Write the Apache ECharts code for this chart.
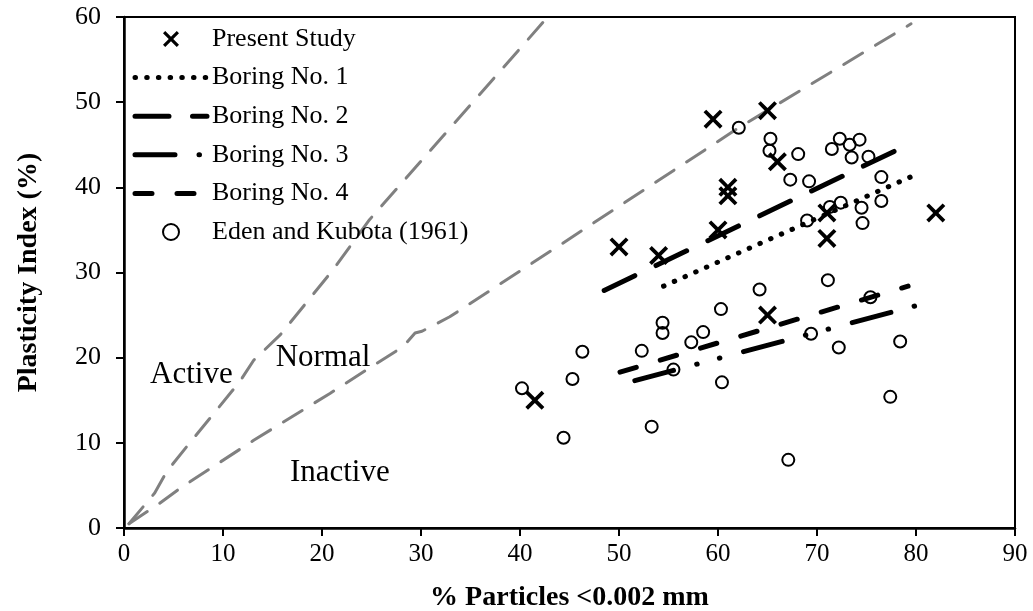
<!DOCTYPE html>
<html>
<head>
<meta charset="utf-8">
<script src="https://cdn.jsdelivr.net/npm/echarts@6/dist/echarts.min.js"></script>
<style>
  html, body { margin: 0; padding: 0; background: #fff; }
  #chart { width: 1033px; height: 611px; }
</style>
</head>
<body>
<div id="chart"></div>
<script>
// Plasticity index against clay fraction (% particles < 0.002 mm)

const legendNames = ['Present Study', 'Boring No. 1', 'Boring No. 2', 'Boring No. 3', 'Boring No. 4', 'Eden and Kubota (1961)'];

const presentStudy = [
  [41.5, 15], [50, 33], [54, 32], [59.5, 48], [65, 49], [61, 40], [61, 39],
  [60, 35], [66, 43], [71, 37], [71, 34], [65, 25], [82, 37]
];

const edenKubota = [
  [40.2, 16.4], [44.4, 10.6], [45.3, 17.5], [46.3, 20.7], [52.3, 20.8], [53.3, 11.9],
  [54.4, 22.9], [54.4, 24.1], [55.5, 18.6], [57.3, 21.8], [58.5, 23.0], [60.3, 25.7],
  [60.4, 17.1], [62.1, 47.0], [64.2, 28.0], [65.2, 44.3], [65.3, 45.7], [67.1, 8.0],
  [67.3, 40.9], [68.1, 43.9], [69.0, 36.1], [69.2, 40.7], [69.4, 22.8], [71.1, 29.1],
  [71.3, 37.7], [72.4, 38.2], [71.5, 44.5], [72.3, 45.7], [73.3, 45.0], [74.3, 45.6],
  [73.5, 43.5], [75.2, 43.6], [72.2, 21.2], [74.5, 37.6], [74.6, 35.8], [75.4, 27.1],
  [76.5, 41.2], [76.5, 38.4], [77.4, 15.4], [78.4, 21.9]
];

const boring1 = [[54.5, 28.4], [80.0, 41.5]];
const boring2 = [[48.5, 27.9], [79.9, 45.4]];
const boring3 = [[51.6, 17.3], [80.0, 26.1]];
const boring4 = [[50.1, 18.3], [79.2, 28.4]];

// Activity boundaries (Active / Normal / Inactive)
const activeBoundary = [
  [0.5, 0.5], [3.1, 4.1], [4.3, 6.6], [6.3, 9.5], [11.7, 17.2], [13.1, 19.7],
  [15.8, 22.7], [21.1, 30.3], [24.8, 36.2], [42.8, 60]
];
const inactiveBoundary = [
  [0.5, 0.5], [3.6, 2.9], [5.7, 4.7], [13.1, 10.3], [20.8, 15.8], [24.8, 18.8],
  [28.2, 21.3], [29.4, 22.9], [30.1, 23.1], [32.9, 24.8], [44.0, 33.2], [62.1, 47.0],
  [79.5, 59.2]
];

const zoneLabels = [
  { name: 'Active', value: [6.8, 18.0] },
  { name: 'Normal', value: [20.1, 20.0] },
  { name: 'Inactive', value: [21.8, 6.5] }
];

const xTicks = [0, 10, 20, 30, 40, 50, 60, 70, 80, 90];
const yTicks = [0, 10, 20, 30, 40, 50, 60];

const FONT = 'Liberation Serif';
const crossPath = 'path://M0,1.4L1.4,0L5,3.6L8.6,0L10,1.4L6.4,5L10,8.6L8.6,10L5,6.4L1.4,10L0,8.6L3.6,5Z';
const clear = 'rgba(0,0,0,0)';

const boringDash = {
  [legendNames[1]]: [0.5, 11.2],
  [legendNames[2]]: [34, 23.5],
  [legendNames[3]]: [40, 24, 0.5, 23, 0.5, 24.5],
  [legendNames[4]]: [17, 25]
};

function boringSeries(name, data) {
  return {
    name: name,
    type: 'line',
    data: data,
    symbol: 'none',
    z: 4,
    itemStyle: { color: clear, borderColor: clear, opacity: 0 },
    lineStyle: { color: '#000', width: 5, type: boringDash[name], cap: 'round' }
  };
}

function boundarySeries(data) {
  return {
    type: 'line',
    data: data,
    symbol: 'none',
    z: 2,
    silent: true,
    lineStyle: { color: '#808080', width: 3, type: [22, 15], cap: 'round' }
  };
}

const legendData = legendNames.map(name => {
  if (boringDash[name]) {
    return {
      name: name,
      itemStyle: { opacity: 0 },
      lineStyle: { color: '#000', width: 5, type: boringDash[name], cap: 'round' }
    };
  }
  return { name: name, itemStyle: { opacity: 1 } };
});

const chart = echarts.init(document.getElementById('chart'), null, { renderer: 'canvas' });

chart.setOption({
  animation: false,
  backgroundColor: '#fff',
  grid: {
    left: 124, right: 18, top: 17, bottom: 83,
    outerBoundsMode: 'none',
    containLabel: false,
    show: true, borderColor: '#000', borderWidth: 2, backgroundColor: clear
  },
  legend: {
    data: legendData,
    orient: 'vertical',
    left: 132.5,
    top: 26,
    padding: 0,
    itemWidth: 72,
    itemHeight: 16,
    itemGap: 12.6,
    selectedMode: false,
    textStyle: { fontFamily: FONT, fontSize: 26, lineHeight: 26, color: '#000' }
  },
  xAxis: {
    type: 'value',
    min: xTicks[0],
    max: xTicks[xTicks.length - 1],
    interval: 10,
    name: '% Particles <0.002 mm',
    nameLocation: 'middle',
    nameGap: 56,
    nameTextStyle: { fontFamily: FONT, fontSize: 28, fontWeight: 'bold', color: '#000' },
    axisLine: { show: true, onZero: false, lineStyle: { color: '#000', width: 2.5 } },
    axisTick: { show: true, inside: false, length: 8, lineStyle: { color: '#000', width: 2 } },
    axisLabel: { fontFamily: FONT, fontSize: 25, color: '#000', margin: 14 },
    splitLine: { show: false }
  },
  yAxis: {
    type: 'value',
    min: yTicks[0],
    max: yTicks[yTicks.length - 1],
    interval: 10,
    name: 'Plasticity Index (%)',
    nameLocation: 'middle',
    nameGap: 81,
    nameTextStyle: { fontFamily: FONT, fontSize: 28, fontWeight: 'bold', color: '#000' },
    axisLine: { show: true, onZero: false, lineStyle: { color: '#000', width: 2.5 } },
    axisTick: { show: true, inside: false, length: 8, lineStyle: { color: '#000', width: 2 } },
    axisLabel: { fontFamily: FONT, fontSize: 26, color: '#000', margin: 23 },
    splitLine: { show: false }
  },
  series: [
    boundarySeries(activeBoundary),
    boundarySeries(inactiveBoundary),
    {
      type: 'scatter',
      data: zoneLabels,
      symbolSize: 0,
      silent: true,
      z: 3,
      itemStyle: { opacity: 1 },
      label: {
        show: true,
        position: 'inside',
        formatter: p => p.name,
        fontFamily: FONT,
        fontSize: 31,
        color: '#000'
      }
    },
    {
      name: legendNames[5],
      type: 'scatter',
      data: edenKubota,
      symbol: 'circle',
      symbolSize: 12,
      z: 3,
      itemStyle: { color: clear, borderColor: '#000', borderWidth: 2, opacity: 1 }
    },
    {
      name: legendNames[0],
      type: 'scatter',
      data: presentStudy,
      symbol: crossPath,
      symbolSize: 19,
      z: 5,
      itemStyle: { color: '#000', opacity: 1 }
    },
    boringSeries(legendNames[1], boring1),
    boringSeries(legendNames[2], boring2),
    boringSeries(legendNames[3], boring3),
    boringSeries(legendNames[4], boring4)
  ]
});
</script>
</body>
</html>
